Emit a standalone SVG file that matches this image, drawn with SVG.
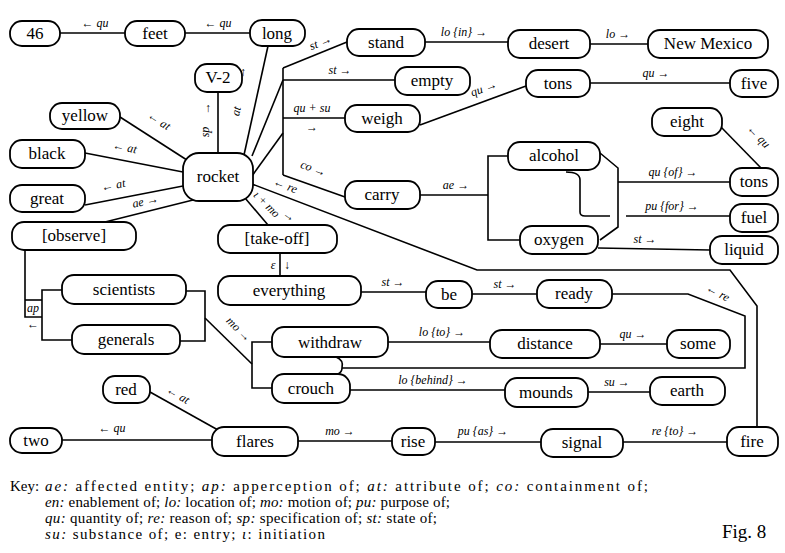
<svg xmlns="http://www.w3.org/2000/svg" width="785" height="553" viewBox="0 0 785 553">
<style>
.n rect{fill:#fff;stroke:#000;stroke-width:1.8}
.n text{font-size:17px;text-anchor:middle;fill:#000}
.c path{fill:none;stroke:#000;stroke-width:1.6}
.l{font-style:italic;font-size:12px;text-anchor:middle;fill:#000}
.k{font-size:15px;fill:#000}
.k tspan.i{font-style:italic}
</style>
<rect width="785" height="553" fill="#fff"/>
<g id="connectors" class="c">
<path d="M60 33H125"/>
<path d="M185 33H250"/>
<path d="M244 155L268 46"/>
<path d="M252 156L283 80"/>
<path d="M252 176L283 133"/>
<path d="M218 92V153"/>
<path d="M190 162L120 117"/>
<path d="M183 172L85 153"/>
<path d="M183 186L85 205"/>
<path d="M193 200L105 222"/>
<path d="M245 198L268 225"/>
<path d="M252 184L477 270H730L757 306V427"/>
<path d="M283 68V175"/>
<path d="M283 68L347 42"/>
<path d="M283 80H395"/>
<path d="M283 118H345"/>
<path d="M283 175L345 197"/>
<path d="M425 42H508"/>
<path d="M590 44H648"/>
<path d="M420 125L526 86"/>
<path d="M590 83H730"/>
<path d="M720 126L762 169"/>
<path d="M420 195H488"/>
<path d="M508 156H488V240H520"/>
<path d="M600 153L618 168V227L600 240"/>
<path d="M618 182H730"/>
<path d="M566 172Q580 172 580 180V212Q580 216 585 216H610"/>
<path d="M626 216H730"/>
<path d="M598 248L710 250"/>
<path d="M280 253V276"/>
<path d="M361 292H426"/>
<path d="M472 294H537"/>
<path d="M25 250V317H42"/>
<path d="M25 300H42"/>
<path d="M62 290H42V340H72"/>
<path d="M186 291H205V341H180"/>
<path d="M205 318L252 364"/>
<path d="M272 342H252V388H272"/>
<path d="M336 357Q344 360 342 368Q342 372 338 374"/>
<path d="M342 368H745V316L688 294H612"/>
<path d="M388 342H490"/>
<path d="M600 344H667"/>
<path d="M350 390H505"/>
<path d="M588 392H650"/>
<path d="M150 392L218 430"/>
<path d="M62 440H212"/>
<path d="M298 441H392"/>
<path d="M435 442H541"/>
<path d="M623 442H727"/>
</g>
<g id="labels" font-family="'Liberation Serif', 'DejaVu Serif', serif">
<text class="l" x="95" y="27">← qu</text>
<text class="l" x="218" y="27">← qu</text>
<text class="l" transform="translate(240,112) rotate(-78)">at</text>
<text class="l" x="243" y="76">↑</text>
<text class="l" transform="translate(209,132) rotate(-90)">sp</text>
<text class="l" x="208" y="112">↑</text>
<text class="l" transform="translate(157,124) rotate(33)">← at</text>
<text class="l" transform="translate(124,151) rotate(11)">← at</text>
<text class="l" transform="translate(114,189) rotate(-11)">← at</text>
<text class="l" transform="translate(146,205) rotate(-12)">ae →</text>
<text class="l" transform="translate(264,207) rotate(45)">ι + mo</text>
<text class="l" transform="translate(287,219) rotate(35)">→</text>
<text class="l" transform="translate(284,189) rotate(21)">← re</text>
<text class="l" transform="translate(322,46) rotate(-22)">st →</text>
<text class="l" x="340" y="74">st →</text>
<text class="l" x="312" y="112">qu + su</text>
<text class="l" x="312" y="131">→</text>
<text class="l" transform="translate(312,172) rotate(20)">co →</text>
<text class="l" x="464" y="36">lo {in} →</text>
<text class="l" x="618" y="38">lo →</text>
<text class="l" transform="translate(485,92) rotate(-20)">qu →</text>
<text class="l" x="656" y="77">qu →</text>
<text class="l" transform="translate(756,139) rotate(46)">← qu</text>
<text class="l" x="456" y="189">ae →</text>
<text class="l" x="673" y="176">qu {of} →</text>
<text class="l" x="672" y="210">pu {for} →</text>
<text class="l" x="645" y="243">st →</text>
<text class="l" x="273" y="269">ε</text>
<text class="l" x="287" y="269">↓</text>
<text class="l" x="393" y="286">st →</text>
<text class="l" x="505" y="288">st →</text>
<text class="l" x="33" y="312">ap</text>
<text class="l" x="33" y="328">←</text>
<text class="l" transform="translate(236,332) rotate(45)">mo →</text>
<text class="l" transform="translate(716,296) rotate(28)">← re</text>
<text class="l" x="442" y="336">lo {to} →</text>
<text class="l" x="633" y="338">qu →</text>
<text class="l" x="433" y="384">lo {behind} →</text>
<text class="l" x="617" y="386">su →</text>
<text class="l" transform="translate(176,398) rotate(30)">← at</text>
<text class="l" x="112" y="432">← qu</text>
<text class="l" x="340" y="435">mo →</text>
<text class="l" x="483" y="435">pu {as} →</text>
<text class="l" x="675" y="435">re {to} →</text>
</g>
<g id="nodes" font-family="'Liberation Serif', 'DejaVu Serif', serif">
<g id="n46" class="n"><rect x="10" y="21" width="50" height="25" rx="12"/><text x="35" y="39">46</text></g>
<g id="feet" class="n"><rect x="125" y="21" width="60" height="25" rx="12"/><text x="155" y="39">feet</text></g>
<g id="long" class="n"><rect x="250" y="20" width="55" height="26" rx="12"/><text x="277" y="39">long</text></g>
<g id="stand" class="n"><rect x="347" y="29" width="78" height="27" rx="12"/><text x="386" y="48">stand</text></g>
<g id="desert" class="n"><rect x="508" y="30" width="82" height="28" rx="12"/><text x="549" y="49">desert</text></g>
<g id="newmexico" class="n"><rect x="648" y="30" width="120" height="28" rx="12"/><text x="708" y="49">New Mexico</text></g>
<g id="v2" class="n"><rect x="195" y="64" width="47" height="28" rx="12"/><text x="218" y="83">V-2</text></g>
<g id="empty" class="n"><rect x="395" y="67" width="75" height="28" rx="12"/><text x="432" y="86">empty</text></g>
<g id="tons1" class="n"><rect x="526" y="70" width="64" height="27" rx="12"/><text x="558" y="89">tons</text></g>
<g id="five" class="n"><rect x="730" y="70" width="48" height="27" rx="12"/><text x="754" y="89">five</text></g>
<g id="yellow" class="n"><rect x="50" y="103" width="70" height="26" rx="12"/><text x="85" y="121">yellow</text></g>
<g id="weigh" class="n"><rect x="345" y="105" width="75" height="27" rx="12"/><text x="382" y="124">weigh</text></g>
<g id="eight" class="n"><rect x="652" y="108" width="70" height="28" rx="12"/><text x="687" y="127">eight</text></g>
<g id="black" class="n"><rect x="10" y="140" width="75" height="28" rx="12"/><text x="47" y="159">black</text></g>
<g id="rocket" class="n"><rect x="183" y="153" width="70" height="48" rx="16"/><text x="218" y="182">rocket</text></g>
<g id="alcohol" class="n"><rect x="508" y="142" width="92" height="28" rx="12"/><text x="554" y="161">alcohol</text></g>
<g id="tons2" class="n"><rect x="730" y="168" width="48" height="28" rx="12"/><text x="754" y="187">tons</text></g>
<g id="carry" class="n"><rect x="345" y="181" width="75" height="28" rx="12"/><text x="382" y="200">carry</text></g>
<g id="great" class="n"><rect x="10" y="185" width="75" height="27" rx="12"/><text x="47" y="204">great</text></g>
<g id="fuel" class="n"><rect x="730" y="204" width="48" height="28" rx="12"/><text x="754" y="223">fuel</text></g>
<g id="observe" class="n"><rect x="12" y="222" width="124" height="28" rx="12"/><text x="74" y="241">[observe]</text></g>
<g id="takeoff" class="n"><rect x="218" y="225" width="119" height="28" rx="12"/><text x="277" y="244">[take-off]</text></g>
<g id="oxygen" class="n"><rect x="520" y="226" width="78" height="28" rx="12"/><text x="559" y="245">oxygen</text></g>
<g id="liquid" class="n"><rect x="710" y="236" width="68" height="28" rx="12"/><text x="744" y="255">liquid</text></g>
<g id="scientists" class="n"><rect x="62" y="275" width="124" height="29" rx="12"/><text x="124" y="295">scientists</text></g>
<g id="everything" class="n"><rect x="218" y="276" width="143" height="29" rx="12"/><text x="289" y="296">everything</text></g>
<g id="be" class="n"><rect x="426" y="281" width="46" height="27" rx="12"/><text x="449" y="300">be</text></g>
<g id="ready" class="n"><rect x="537" y="280" width="75" height="28" rx="12"/><text x="574" y="299">ready</text></g>
<g id="generals" class="n"><rect x="72" y="325" width="108" height="29" rx="12"/><text x="126" y="345">generals</text></g>
<g id="withdraw" class="n"><rect x="272" y="327" width="116" height="30" rx="12"/><text x="330" y="348">withdraw</text></g>
<g id="distance" class="n"><rect x="490" y="330" width="110" height="28" rx="12"/><text x="545" y="349">distance</text></g>
<g id="some" class="n"><rect x="667" y="330" width="63" height="28" rx="12"/><text x="698" y="349">some</text></g>
<g id="crouch" class="n"><rect x="272" y="374" width="78" height="29" rx="12"/><text x="311" y="394">crouch</text></g>
<g id="red" class="n"><rect x="103" y="376" width="47" height="27" rx="12"/><text x="126" y="395">red</text></g>
<g id="mounds" class="n"><rect x="505" y="378" width="83" height="29" rx="12"/><text x="546" y="398">mounds</text></g>
<g id="earth" class="n"><rect x="650" y="377" width="75" height="28" rx="12"/><text x="687" y="396">earth</text></g>
<g id="two" class="n"><rect x="10" y="428" width="52" height="25" rx="12"/><text x="36" y="446">two</text></g>
<g id="flares" class="n"><rect x="212" y="427" width="86" height="29" rx="12"/><text x="255" y="447">flares</text></g>
<g id="rise" class="n"><rect x="392" y="428" width="43" height="27" rx="12"/><text x="413" y="447">rise</text></g>
<g id="signal" class="n"><rect x="541" y="429" width="82" height="28" rx="12"/><text x="582" y="448">signal</text></g>
<g id="fire" class="n"><rect x="727" y="427" width="51" height="29" rx="12"/><text x="752" y="447">fire</text></g>
</g>
<g id="key" font-family="'Liberation Serif', 'DejaVu Serif', serif">
<text class="k" x="10" y="491">Key:</text>
<text class="k" x="45" y="491" textLength="603" lengthAdjust="spacing"><tspan class="i">ae:</tspan> affected entity; <tspan class="i">ap:</tspan> apperception of; <tspan class="i">at:</tspan> attribute of; <tspan class="i">co:</tspan> containment of;</text>
<text class="k" x="45" y="507" textLength="405" lengthAdjust="spacing"><tspan class="i">en:</tspan> enablement of; <tspan class="i">lo:</tspan> location of; <tspan class="i">mo:</tspan> motion of; <tspan class="i">pu:</tspan> purpose of;</text>
<text class="k" x="45" y="523" textLength="392" lengthAdjust="spacing"><tspan class="i">qu:</tspan> quantity of; <tspan class="i">re:</tspan> reason of; <tspan class="i">sp:</tspan> specification of; <tspan class="i">st:</tspan> state of;</text>
<text class="k" x="45" y="539" textLength="280" lengthAdjust="spacing"><tspan class="i">su:</tspan> substance of; e: entry; <tspan class="i">ι</tspan>: initiation</text>
<text class="k" x="722" y="538" style="font-size:19px">Fig. 8</text>
</g>
</svg>
